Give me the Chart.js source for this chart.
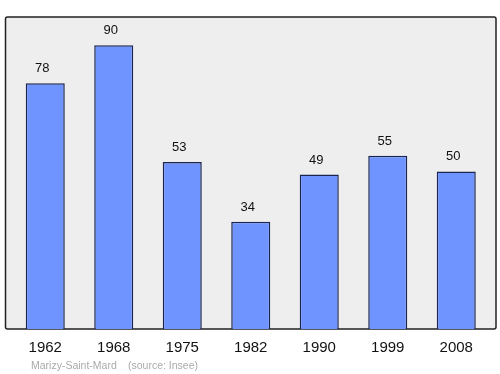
<!DOCTYPE html>
<html>
<head>
<meta charset="utf-8">
<script src="https://cdn.jsdelivr.net/npm/chart.js@4/dist/chart.umd.min.js"></script>
<style>
  html, body { margin: 0; padding: 0; background: #ffffff; }
  #wrap { width: 500px; height: 374px; position: relative; }
</style>
</head>
<body>
<div id="wrap"><canvas id="popChart"></canvas></div>
<script>
// population figures
const years = ["1962", "1968", "1975", "1982", "1990", "1999", "2008"];
const population = [78, 90, 53, 34, 49, 55, 50];
const townName = "Marizy-Saint-Mard";
const sourceNote = "(source: Insee)";

const FONT = "'Liberation Sans', Arial, sans-serif";

// grey framed panel behind the bars, a little wider than the chart area
const framePlugin = {
  id: "frame",
  beforeDatasetsDraw(chart) {
    const { ctx, chartArea } = chart;
    const x = chartArea.left - 5.5;
    const w = chartArea.right - chartArea.left + 11;
    const y = chartArea.top;
    const h = chartArea.bottom - chartArea.top;
    ctx.save();
    ctx.fillStyle = "#eeeeee";
    ctx.strokeStyle = "#222222";
    ctx.lineWidth = 1.5;
    ctx.beginPath();
    ctx.roundRect(x, y, w, h, 2);
    ctx.fill();
    ctx.stroke();
    ctx.restore();
  },
  afterDraw(chart) {
    const { ctx } = chart;
    const meta = chart.getDatasetMeta(0);
    ctx.save();
    ctx.fillStyle = "#111111";
    ctx.font = "13px " + FONT;
    ctx.textAlign = "center";
    ctx.textBaseline = "alphabetic";
    meta.data.forEach((bar, i) => {
      ctx.fillText(String(population[i]), bar.x - 3, bar.y - 11);
    });
    ctx.fillStyle = "#aaaaaa";
    ctx.font = "10.5px " + FONT;
    ctx.textAlign = "left";
    ctx.fillText(townName, 31, 369);
    ctx.fillText(sourceNote, 128, 369);
    ctx.restore();
  }
};

new Chart(document.getElementById("popChart").getContext("2d"), {
  type: "bar",
  data: {
    labels: years,
    datasets: [
      {
        data: population,
        backgroundColor: "#6f94ff",
        borderColor: "#1a2550",
        borderWidth: 1.5,
        categoryPercentage: 1,
        barPercentage: 0.57
      }
    ]
  },
  options: {
    responsive: true,
    maintainAspectRatio: false,
    animation: false,
    layout: {
      padding: { top: 17, left: 11, right: 9.5, bottom: 0 }
    },
    scales: {
      x: {
        grid: { display: false, drawTicks: false },
        border: { display: false },
        ticks: {
          color: "#111111",
          padding: 10,
          font: { family: FONT, size: 15 }
        },
        afterFit: (scale) => { scale.height = 45; }
      },
      y: {
        display: false,
        min: 0,
        max: 99
      }
    },
    plugins: {
      legend: { display: false },
      tooltip: { enabled: false }
    }
  },
  plugins: [framePlugin]
});
</script>
</body>
</html>
